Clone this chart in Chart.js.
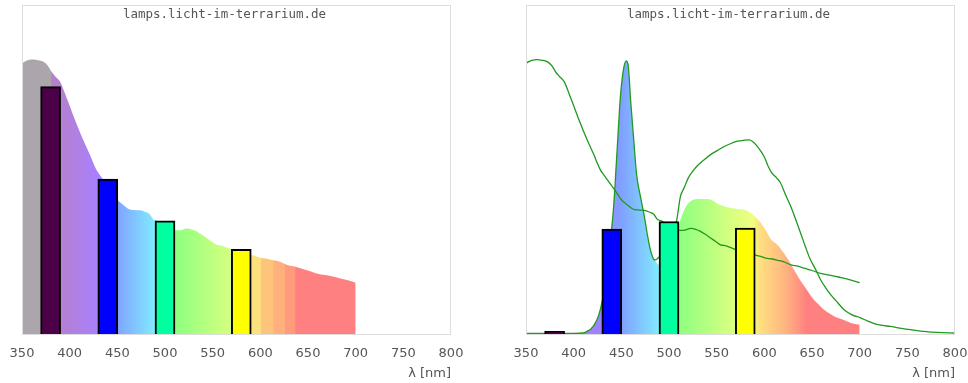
<!DOCTYPE html>
<html>
<head>
<meta charset="utf-8">
<script src="https://cdn.jsdelivr.net/npm/chart.js@4"></script>
<style>
  html, body { margin: 0; padding: 0; background: #fff; }
  canvas { position: absolute; top: 0; }
  #left { left: 0; }
  #right { left: 484px; }
</style>
</head>
<body>
<canvas id="left" width="484" height="383"></canvas>
<canvas id="right" width="484" height="383"></canvas>
<script>
// lamp A spectrum (left fill, green overlay on the right)
const lampANm = [350, 356, 362, 367, 372, 377, 381, 385, 390, 395, 400, 405, 411, 416, 421, 425, 428, 432, 435, 440,
  445, 450, 456, 462, 467, 474, 480, 484, 488, 492, 497, 503, 509, 515, 523, 528, 533, 538, 544, 549, 554, 560,
  568, 575, 582, 591, 597, 603, 608, 614, 620, 628, 635, 642, 650, 659, 668, 677, 684, 691, 700];
const lampAVal = [82.3, 83.2, 83.4, 83.2, 82.8, 81.6, 79.7, 78.3, 76.7, 73.2, 69.4, 65.5, 61.2, 57.8, 54.6, 51.8, 49.9, 48.2, 47.0, 45.0,
  43.0, 40.8, 39.3, 38.0, 37.7, 37.6, 37.0, 36.4, 34.8, 34.4, 33.3, 32.2, 31.6, 31.5, 32.1, 31.8, 31.2, 30.3, 29.1, 28.1, 27.1, 26.8,
  25.9, 25.2, 24.5, 24.0, 23.5, 23.0, 22.8, 22.4, 22.0, 21.0, 20.6, 20.0, 19.3, 18.4, 17.9, 17.4, 16.9, 16.4, 15.6];

// lamp B spectrum (right fill)
const lampBNm = [350, 360, 370, 380, 390, 400, 410, 414, 418, 422, 426, 430, 434, 438, 442, 446, 449, 452, 455, 457,
  460, 463, 466, 470, 474, 477, 481, 485, 490, 495, 500, 505, 509, 513, 518, 523, 530, 537, 544, 551, 558, 565,
  572, 579, 586, 592, 597, 602, 607, 613, 620, 626, 631, 636, 642, 647, 652, 658, 663, 668, 673, 679, 684, 689, 694, 700];
const lampBVal = [0, 0, 0, 0, 0, 0, 0.3, 0.8, 1.5, 3.0, 5.5, 10, 17, 27, 39, 58, 72, 80, 83, 82,
  70, 59, 48.5, 41.8, 36, 30.7, 25, 22.5, 21, 21.5, 24, 28, 31.7, 35.5, 38.8, 40.4, 41.0, 41.0, 40.8, 39.6, 38.8, 38.3,
  38.0, 37.8, 36.8, 35.2, 33.5, 31.3, 28.7, 27.3, 24.8, 22.2, 19.6, 17.1, 14.5, 12.4, 10.4, 8.7, 7.3, 6.3, 5.4, 4.7, 4.2, 3.6, 3.1, 2.8];

// lamp B second curve (green line on the right)
const lampB2Nm = [350, 360, 370, 380, 390, 400, 410, 414, 418, 422, 426, 430, 434, 438, 442, 446, 449, 452, 455, 457,
  460, 463, 466, 470, 474, 477, 481, 485, 490, 495, 500, 505, 508, 512, 516, 520, 525, 530, 537, 544, 551, 558, 565,
  572, 579, 584, 589, 594, 600, 604, 608, 613, 617, 622, 628, 633, 638, 643, 648, 654, 659, 664, 670, 677, 684, 692,
  701, 708, 716, 724, 732, 742, 753, 764, 775, 787, 799];
const lampB2Val = [0.2, 0.2, 0.2, 0.2, 0.2, 0.2, 0.3, 0.8, 1.5, 3.0, 5.5, 10, 17, 27, 39, 58, 72, 80, 83, 82,
  70, 59, 48.5, 41.8, 36, 30.7, 25, 22.5, 23.5, 26, 29, 32.5, 34.5, 41.8, 44.5, 47.3, 49.5, 51.2, 53, 54.6, 55.8, 57, 57.9,
  58.6, 58.9, 59, 58.2, 56.5, 53.8, 51, 48.9, 47.4, 45.9, 42.5, 38.6, 34.7, 30.7, 26.6, 22.8, 19.5, 16.5, 14.2, 11.8, 9.5, 7.3, 5.8,
  4.9, 4.0, 3.1, 2.6, 2.3, 1.8, 1.3, 0.9, 0.6, 0.4, 0.3];

// colour bands (bars)
const bandCenters = [380, 440, 500, 580];
const leftBandVals = [75.2, 47.1, 34.4, 25.7];
const rightBandVals = [0.8, 31.9, 34.2, 32.2];

const tickLabels = [350, 400, 450, 500, 550, 600, 650, 700, 750, 800];

const bandColors = ['#4b0048', '#0000ff', '#00ffa0', '#ffff00'];
const leftStops = [[350, '#aca6ac'], [380.5, '#aca6ac'], [381, '#b880c4'], [430, '#a880ff'], [450, '#80a4ff'],
  [488, '#80e8ff'], [510, '#8cff80'], [560, '#ccff80'], [589, '#e8ff80'], [590, '#fde07e'], [600.5, '#fde07e'],
  [601, '#ffc47c'], [613.5, '#ffc47c'], [614, '#ffb07c'], [625.5, '#ffb07c'], [626, '#ff9a7c'], [636.5, '#ff9a7c'],
  [637, '#ff8080'], [800, '#ff8080']];
const rightStops = [[350, '#aca6ac'], [380, '#b880c4'], [410, '#a880ff'], [425, '#a080ff'], [450, '#80a0ff'],
  [488, '#80e8ff'], [510, '#8cff80'], [560, '#d0ff80'], [588, '#f0ff80'], [595, '#ffe080'], [620, '#ffb880'],
  [645, '#ff8080'], [800, '#ff8080']];

Chart.defaults.font.family = '"DejaVu Sans", sans-serif';

const pts = (xs, ys) => xs.map((x, i) => ({ x: x, y: ys[i] }));

function spectrumGradient(chart, stops) {
  const { ctx, chartArea, scales } = chart;
  if (!chartArea) return '#ccc';
  const x0 = scales.x.getPixelForValue(350), x1 = scales.x.getPixelForValue(800);
  const g = ctx.createLinearGradient(x0, 0, x1, 0);
  stops.forEach(([nm, c]) => g.addColorStop((nm - 350) / 450, c));
  return g;
}

const frame = {
  id: 'frame',
  afterDatasetsDraw(chart) {
    const { ctx, chartArea: a } = chart;
    ctx.save();
    ctx.strokeStyle = '#dddddd';
    ctx.lineWidth = 1;
    ctx.strokeRect(a.left + 0.5, a.top + 0.5, a.width - 1, a.height);
    ctx.font = '12.5px "DejaVu Sans Mono", monospace';
    ctx.fillStyle = '#555';
    ctx.textAlign = 'center';
    ctx.textBaseline = 'middle';
    ctx.fillText('lamps.licht-im-terrarium.de', (a.left + a.right) / 2 - 12, 15);
    ctx.restore();
  }
};

function makeChart(id, pad, fillPts, stops, lines, bandVals) {
  const datasets = [{
    type: 'line',
    data: fillPts,
    backgroundColor: c => spectrumGradient(c.chart, stops),
    borderWidth: 0,
    pointRadius: 0,
    fill: 'origin',
    cubicInterpolationMode: 'monotone',
    order: 3
  }];
  lines.forEach(l => datasets.push({
    type: 'line',
    data: l,
    borderColor: '#1f9a1f',
    borderWidth: 1.3,
    pointRadius: 0,
    fill: false,
    cubicInterpolationMode: 'monotone',
    order: 2
  }));
  datasets.push({
    type: 'bar',
    data: pts(bandCenters, bandVals),
    backgroundColor: bandColors,
    borderColor: '#000',
    borderWidth: 2,
    barThickness: 20,
    order: 1
  });

  return new Chart(document.getElementById(id), {
    type: 'line',
    data: { datasets },
    options: {
      responsive: false,
      animation: false,
      layout: { padding: pad },
      plugins: { legend: { display: false }, tooltip: { enabled: false } },
      scales: {
        x: {
          type: 'linear',
          min: 350,
          max: 800,
          offset: false,
          afterFit: s => { s.paddingLeft = 0; s.paddingRight = 0; s.height = 49; },
          afterBuildTicks: s => { s.ticks = tickLabels.map(v => ({ value: v })); },
          grid: { display: false, drawTicks: false },
          border: { display: false },
          ticks: { color: '#555', font: { size: 13 }, padding: 12, maxRotation: 0 },
          title: { display: true, text: 'λ [nm]', align: 'end', color: '#555', font: { size: 13 }, padding: { top: 0, bottom: 2 } }
        },
        y: { display: false, min: 0, max: 100 }
      }
    },
    plugins: [frame]
  });
}

makeChart('left', { left: 22, right: 33, top: 5, bottom: 0 }, pts(lampANm, lampAVal), leftStops, [], leftBandVals);
makeChart('right', { left: 42, right: 13, top: 5, bottom: 0 }, pts(lampBNm, lampBVal), rightStops,
  [pts(lampANm, lampAVal), pts(lampB2Nm, lampB2Val)], rightBandVals);
</script>
</body>
</html>
